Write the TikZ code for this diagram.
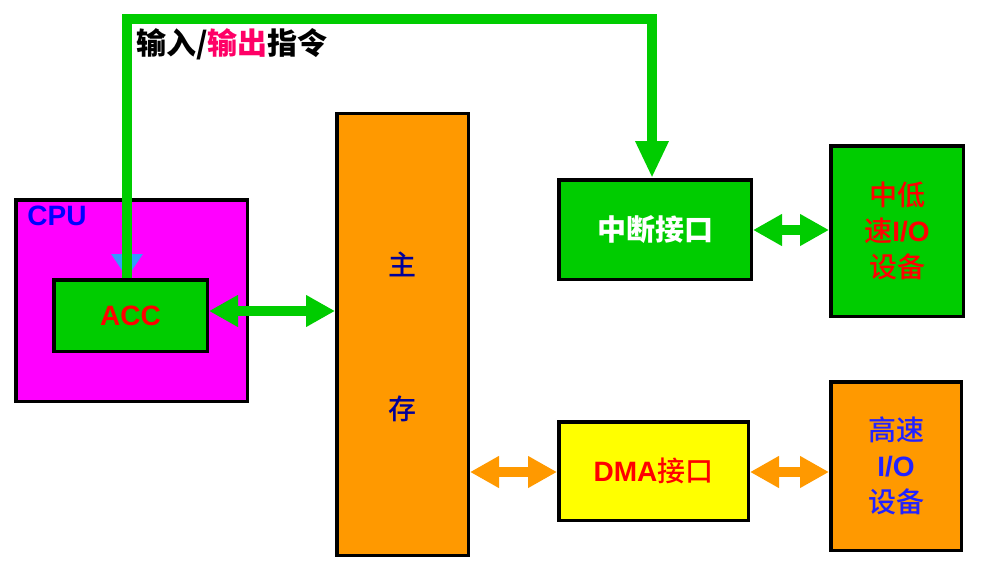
\documentclass[tikz,border=0pt]{standalone}
\usepackage{fontspec}
\setmainfont{Liberation Sans}
\newfontfamily\cjk{Noto Sans CJK SC}
\newfontfamily\cjkmed{Noto Sans CJK SC Medium}
\usetikzlibrary{arrows.meta}
\definecolor{gr}{HTML}{00CC00}
\definecolor{org}{HTML}{FF9900}
\definecolor{mag}{HTML}{FF00FF}
\definecolor{yel}{HTML}{FFFF00}
\definecolor{pk}{HTML}{FF0066}
\definecolor{dblue}{HTML}{000099}
\definecolor{tblue}{HTML}{0000FF}
\definecolor{hblue}{HTML}{2222FF}
\definecolor{tipblue}{HTML}{3399FF}
\newcommand{\cjr}{\cjkmed\mdseries}
\begin{document}
\begin{tikzpicture}[x=1pt,y=-1pt,
  box/.style={draw=black,line width=3.5pt,rectangle,inner sep=0pt},
  lbl/.style={font=\bfseries\fontsize{28}{36}\selectfont,align=center,inner sep=0pt},
  dbl/.style={line width=10.5pt,{Triangle[length=29pt,width=30pt]}-{Triangle[length=29pt,width=30pt]}}]
\useasboundingbox (0,0) rectangle (984,575);
% boxes
\node[box,fill=mag,minimum width=231.5pt,minimum height=201.5pt] (cpu) at (131.5,300.5) {};
\node[box,fill=gr,minimum width=153.5pt,minimum height=71.5pt,lbl,text=red] (acc) at (130.5,315.5) {ACC};
\node[box,fill=org,minimum width=131.5pt,minimum height=441.5pt] (mem) at (402.5,334.5) {};
\node[box,fill=gr,minimum width=192.5pt,minimum height=99.5pt,lbl,text=white] (zd) at (655,229.5) {\cjk\fontsize{29}{36}\selectfont 中断接口};
\node[box,fill=gr,minimum width=132.5pt,minimum height=170.5pt,lbl,text=red] (lo) at (897,231) {\cjr 中低\\{\cjr 速}I/O\\\cjr 设备};
\node[box,fill=yel,minimum width=189.5pt,minimum height=98.5pt,lbl,text=red] (dma) at (653.5,471) {DMA{\cjr 接口}};
\node[box,fill=org,minimum width=130.5pt,minimum height=168.5pt,lbl,text=hblue] (hi) at (896,466) {\cjr 高速\\I/O\\\cjr 设备};
% labels
\node[lbl,text=tblue] (cpulbl) at (57,216) {CPU};
\node[lbl,text=dblue] (m1) at (402,264) {\cjr 主};
\node[lbl,text=dblue] (m2) at (402,409) {\cjr 存};
\node[anchor=west,inner sep=0pt,font=\cjk\bfseries\fontsize{30}{30}\selectfont] (title) at (136,44) {输入/\textcolor{pk}{输出}指令};
% connectors
\draw[dbl,gr] (acc.east |- 0,311) -- (mem.west |- 0,311);
\draw[dbl,gr] (zd.east |- 0,230) -- (lo.west |- 0,230);
\draw[dbl,org] (mem.east |- 0,472) -- (dma.west |- 0,472);
\draw[dbl,org] (dma.east |- 0,472) -- (hi.west |- 0,472);
\draw[line width=10.5pt,gr,line join=miter,
  {Triangle[length=24pt,width=30pt,color=tipblue]}-{Triangle[length=37pt,width=31pt]}]
  (acc.north -| 127,0) -- (127,19) -- (652,19) -- (zd.north -| 652,0);
\draw[line width=10.5pt,gr] (acc.north -| 127,0) -- ++(0,-30);
\end{tikzpicture}
\end{document}
